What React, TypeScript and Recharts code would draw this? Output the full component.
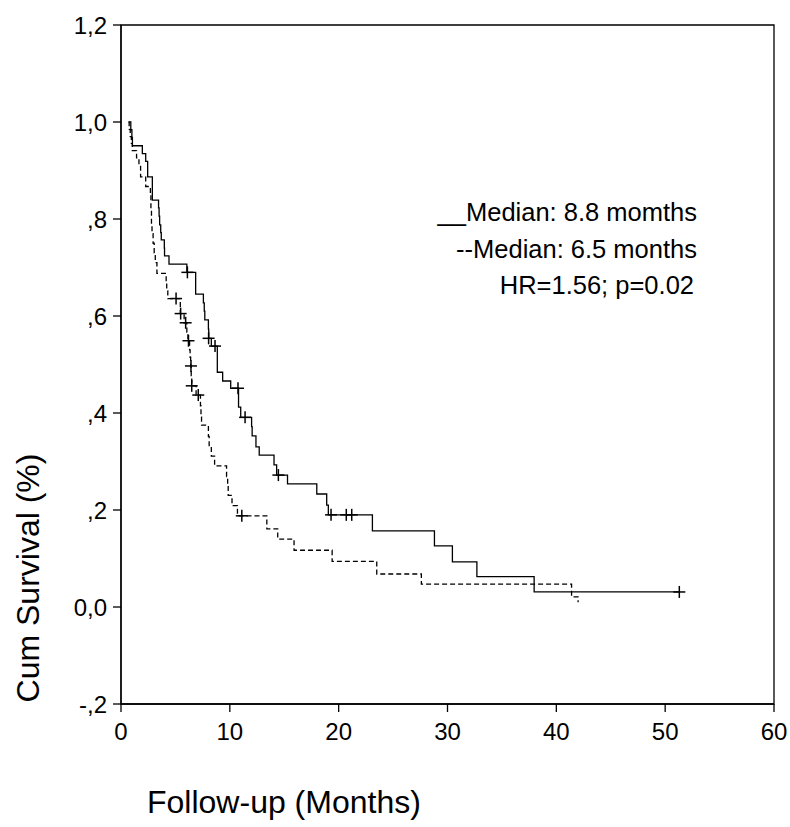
import React from 'react';
import { ComposedChart, Line, Scatter, XAxis, YAxis, ReferenceArea } from 'recharts';

// axis ticks
const xTicks = [0, 10, 20, 30, 40, 50, 60];
const yTicks = [-0.2, 0, 0.2, 0.4, 0.6, 0.8, 1.0, 1.2];
const yTickLabels = ['-,2', '0,0', ',2', ',4', ',6', ',8', '1,0', '1,2'];

// group 1 (solid) – event times and survival after each step
const group1Steps = [
  { t: 0.75, s: 1.0 }, { t: 0.9, s: 0.984 }, { t: 1.0, s: 0.968 }, { t: 1.05, s: 0.951 },
  { t: 1.96, s: 0.935 }, { t: 2.27, s: 0.919 }, { t: 2.45, s: 0.887 }, { t: 2.88, s: 0.839 },
  { t: 3.45, s: 0.823 }, { t: 3.5, s: 0.806 }, { t: 3.55, s: 0.788 }, { t: 3.65, s: 0.772 },
  { t: 3.7, s: 0.757 }, { t: 3.98, s: 0.74 }, { t: 4.0, s: 0.724 }, { t: 4.41, s: 0.707 },
  { t: 6.05, s: 0.69 }, { t: 6.86, s: 0.645 }, { t: 7.57, s: 0.627 }, { t: 7.65, s: 0.61 },
  { t: 7.7, s: 0.592 }, { t: 8.03, s: 0.573 }, { t: 8.06, s: 0.554 }, { t: 8.3, s: 0.538 },
  { t: 8.85, s: 0.484 }, { t: 9.34, s: 0.466 }, { t: 10.08, s: 0.451 }, { t: 10.8, s: 0.412 },
  { t: 11.0, s: 0.391 }, { t: 12.0, s: 0.372 }, { t: 12.05, s: 0.353 }, { t: 12.4, s: 0.33 },
  { t: 12.7, s: 0.313 }, { t: 14.06, s: 0.293 }, { t: 14.3, s: 0.272 }, { t: 15.3, s: 0.254 },
  { t: 17.99, s: 0.233 }, { t: 18.9, s: 0.21 }, { t: 19.05, s: 0.19 }, { t: 23.1, s: 0.157 },
  { t: 28.8, s: 0.126 }, { t: 30.45, s: 0.093 }, { t: 32.7, s: 0.0625 }, { t: 37.96, s: 0.031 },
  { t: 51.3, s: 0.031 },
];
const group1Censored = [
  { t: 6.1, s: 0.69 }, { t: 8.05, s: 0.554 }, { t: 8.64, s: 0.538 }, { t: 10.75, s: 0.451 },
  { t: 11.4, s: 0.391 }, { t: 14.46, s: 0.272 }, { t: 19.3, s: 0.19 }, { t: 20.7, s: 0.19 },
  { t: 21.2, s: 0.19 }, { t: 51.3, s: 0.031 },
];

// group 2 (dashed)
const group2Steps = [
  { t: 0.67, s: 1.0 }, { t: 0.75, s: 0.985 }, { t: 0.85, s: 0.97 }, { t: 0.95, s: 0.956 },
  { t: 1.04, s: 0.941 }, { t: 1.43, s: 0.926 }, { t: 1.65, s: 0.91 }, { t: 1.8, s: 0.887 },
  { t: 2.27, s: 0.867 }, { t: 2.7, s: 0.85 }, { t: 2.75, s: 0.82 }, { t: 2.8, s: 0.79 },
  { t: 2.85, s: 0.77 }, { t: 2.95, s: 0.75 }, { t: 3.05, s: 0.73 }, { t: 3.15, s: 0.71 },
  { t: 3.3, s: 0.688 }, { t: 4.15, s: 0.67 }, { t: 4.2, s: 0.652 }, { t: 4.3, s: 0.636 },
  { t: 5.45, s: 0.605 }, { t: 5.8, s: 0.586 }, { t: 6.05, s: 0.567 }, { t: 6.15, s: 0.549 },
  { t: 6.3, s: 0.53 }, { t: 6.35, s: 0.515 }, { t: 6.4, s: 0.497 }, { t: 6.45, s: 0.477 },
  { t: 6.5, s: 0.456 }, { t: 6.9, s: 0.437 }, { t: 7.3, s: 0.415 }, { t: 7.35, s: 0.392 },
  { t: 7.4, s: 0.375 }, { t: 8.03, s: 0.352 }, { t: 8.1, s: 0.33 }, { t: 8.3, s: 0.311 },
  { t: 8.6, s: 0.291 }, { t: 9.7, s: 0.269 }, { t: 9.8, s: 0.25 }, { t: 9.85, s: 0.23 },
  { t: 10.2, s: 0.209 }, { t: 10.7, s: 0.188 }, { t: 13.4, s: 0.161 }, { t: 14.4, s: 0.14 },
  { t: 15.9, s: 0.117 }, { t: 19.4, s: 0.094 }, { t: 23.5, s: 0.068 }, { t: 27.6, s: 0.047 },
  { t: 41.4, s: 0.021 }, { t: 42.0, s: 0.01 },
];
const group2Censored = [
  { t: 5.06, s: 0.636 }, { t: 5.48, s: 0.605 }, { t: 5.94, s: 0.586 }, { t: 6.2, s: 0.549 },
  { t: 6.43, s: 0.497 }, { t: 6.5, s: 0.456 }, { t: 7.1, s: 0.437 }, { t: 11.1, s: 0.188 },
];

const legendLines = ['__Median: 8.8 momths', '--Median: 6.5 months', 'HR=1.56; p=0.02'];

const font = '"Liberation Sans", Arial, sans-serif';

const Plus = (props: any) => {
  const { cx, cy } = props;
  if (cx == null || cy == null) return null;
  return (
    <g stroke="#000" strokeWidth={1.5}>
      <line x1={cx - 6} y1={cy} x2={cx + 6} y2={cy} />
      <line x1={cx} y1={cy - 6} x2={cx} y2={cy + 6} />
    </g>
  );
};

export default function App() {
  return (
    <div style={{ position: 'absolute', left: 0, top: 0, width: 790, height: 827, background: '#fff', fontFamily: font }}>
      <ComposedChart width={790} height={827} margin={{ top: 25, right: 16, bottom: 83, left: 0 }}>
        <XAxis
          type="number"
          dataKey="t"
          domain={[0, 60]}
          ticks={xTicks}
          allowDataOverflow
          height={40}
          tickSize={8}
          tickMargin={11}
          stroke="#000"
          strokeWidth={1.3}
          tick={{ fill: '#000', fontSize: 24, fontFamily: font }}
        />
        <YAxis
          type="number"
          domain={[-0.2, 1.2]}
          ticks={yTicks}
          allowDataOverflow
          width={121}
          tickSize={8}
          tickMargin={6}
          stroke="#000"
          strokeWidth={1.3}
          tickFormatter={(v: number) => yTickLabels[yTicks.findIndex((y) => Math.abs(y - v) < 1e-6)] ?? ''}
          tick={{ fill: '#000', fontSize: 24, fontFamily: font }}
        />
        <ReferenceArea x1={0} x2={60} y1={-0.2} y2={1.2} fill="none" stroke="#000" strokeWidth={1.3} ifOverflow="visible" />
        <Line data={group1Steps} dataKey="s" type="stepAfter" stroke="#000" strokeWidth={1.3} dot={false} isAnimationActive={false} />
        <Line data={group2Steps} dataKey="s" type="stepAfter" stroke="#000" strokeWidth={1.3} strokeDasharray="5 3" dot={false} isAnimationActive={false} />
        <Scatter data={group1Censored} dataKey="s" shape={Plus} isAnimationActive={false} />
        <Scatter data={group2Censored} dataKey="s" shape={Plus} isAnimationActive={false} />
      </ComposedChart>

      {legendLines.map((txt, i) => (
        <div
          key={txt}
          style={{
            position: 'absolute',
            right: i === 2 ? 96 : 93,
            top: 200 + i * 36.5,
            fontSize: 25.5,
            lineHeight: 1,
            whiteSpace: 'nowrap',
            color: '#000',
          }}
        >
          {txt}
        </div>
      ))}

      <div
        style={{
          position: 'absolute',
          left: 28,
          top: 578,
          transform: 'translate(-50%, -50%) rotate(-90deg)',
          fontSize: 32,
          lineHeight: 1,
          whiteSpace: 'nowrap',
          color: '#000',
        }}
      >
        Cum Survival (%)
      </div>
      <div
        style={{
          position: 'absolute',
          left: 147,
          top: 802,
          transform: 'translateY(-50%)',
          fontSize: 32,
          lineHeight: 1,
          whiteSpace: 'nowrap',
          color: '#000',
        }}
      >
        Follow-up (Months)
      </div>
    </div>
  );
}
